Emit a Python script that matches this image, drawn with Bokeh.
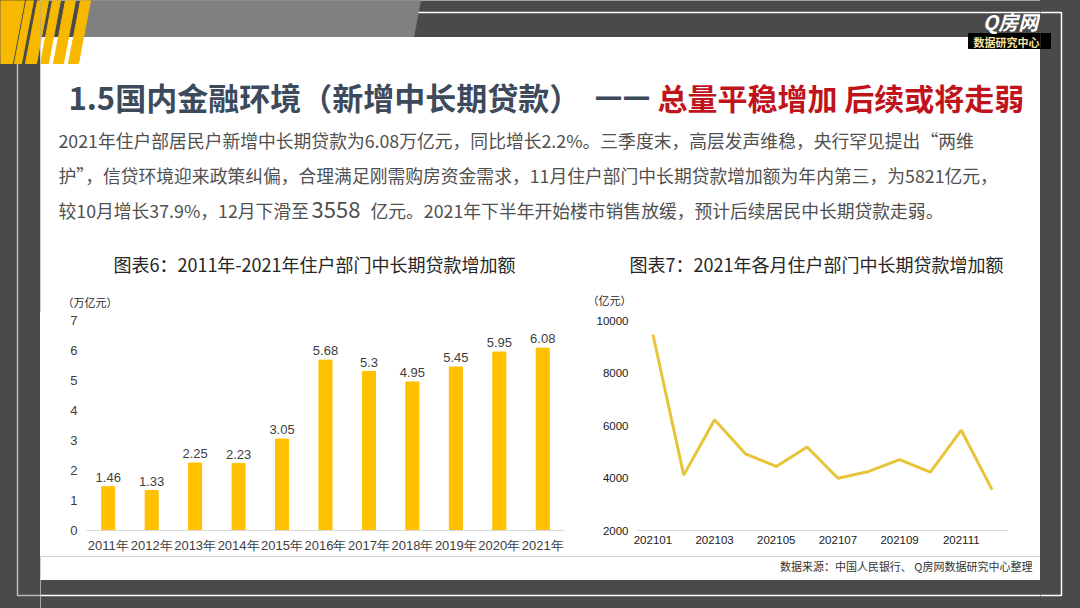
from bokeh.plotting import figure
from bokeh.layouts import column, row
from bokeh.models import Range1d, FactorRange, FixedTicker, CustomJSTickFormatter
from bokeh.core.properties import value
from bokeh.embed import file_html
from bokeh.resources import INLINE

# ---------------- data ----------------
years = ["2011年", "2012年", "2013年", "2014年", "2015年", "2016年",
         "2017年", "2018年", "2019年", "2020年", "2021年"]
annual_loans = [1.46, 1.33, 2.25, 2.23, 3.05, 5.68, 5.3, 4.95, 5.45, 5.95, 6.08]
annual_labels = ["1.46", "1.33", "2.25", "2.23", "3.05", "5.68", "5.3", "4.95", "5.45", "5.95", "6.08"]
bar_y_ticks = [0, 1, 2, 3, 4, 5, 6, 7]

months = ["202101", "202102", "202103", "202104", "202105", "202106",
          "202107", "202108", "202109", "202110", "202111", "202112"]
monthly_loans = [9466, 4110, 6220, 4920, 4440, 5180, 3990, 4250, 4700, 4221, 5821, 3558]
line_y_ticks = [2000, 4000, 6000, 8000, 10000]
month_ticks = [1, 3, 5, 7, 9, 11]

# ---------------- styles ----------------
GRAY = "#4a4a4a"
BAND = "#808080"
STRIPE = "#F7B900"
BAR = "#FFC000"
LINE = "#E8C43A"
CJK = value("Noto Sans CJK SC")
LAT = "Liberation Sans"
FRAME_GRAD = ("linear-gradient(to right, #4a4a4a 0px, #4a4a4a 40px, #ffffff 40px, #ffffff 1040px, "
              "#4a4a4a 1040px, #4a4a4a 1080px)")

TOP_H = 312
MID_H = 244
BOT_Y = TOP_H + MID_H  # 556
STRIPES = [(26, 7), (37, 11), (52, 8), (65, 10), (80, 10)]


def deco(w, h, x0, y0):
    p = figure(width=w, height=h, x_range=Range1d(x0, x0 + w), y_range=Range1d(y0 + h, y0),
               output_backend="svg", toolbar_location=None, x_axis_location=None,
               y_axis_location=None, min_border=0)
    p.grid.visible = False
    p.outline_line_color = None
    p.background_fill_color = GRAY
    p.border_fill_color = GRAY
    return p


def draw_stripes(p):
    p.patch([0, 24, 12, 0], [0, 0, 63, 63], color=STRIPE)
    for sx, sw in STRIPES:
        p.patch([sx, sx + sw, sx + sw - 12, sx - 12], [0, 0, 63, 63], color=STRIPE)


# ---------------- left frame strip (full height) ----------------
left = deco(40, 608, 0, 0)
left.line([17, 17, 41], [63, 595, 595], color="#bbbbbb", line_width=1.5)
draw_stripes(left)

# ---------------- right frame strip (full height) ----------------
right = deco(40, 608, 1040, 0)
right.quad(left=[1039], right=[1050], top=[33], bottom=[48], color="black")
right.line([1039, 1061, 1061, 1039], [12, 12, 595, 595], color="white", line_width=1.5)

# ---------------- top part ----------------
top = deco(1000, TOP_H, 40, 0)
top.patch([85, 420, 413, 78], [0, 0, 37, 37], color=BAND)
top.quad(left=[39], right=[1041], top=[37], bottom=[TOP_H + 2], color="white")
top.line([418, 1041], [12, 12], color="white", line_width=1.5)
draw_stripes(top)
# logo
top.quad(left=[968], right=[1041], top=[33], bottom=[48], color="black")
top.text(x=[1006], y=[41], text=["数据研究中心"], text_font=CJK, text_font_size="11px",
         text_font_style="bold", text_color="#F3E3A0", text_align="center", text_baseline="middle")
top.text(x=[1010], y=[21], text=["Q房网"], text_font=CJK, text_font_size="20px",
         text_font_style="bold italic", text_color="white", text_align="center", text_baseline="middle")
# title
top.text(x=[68], y=[96], text=["1.5国内金融环境（新增中长期贷款）"], text_font=CJK,
         text_font_size="31px", text_font_style="bold", text_color="#3D4A5C",
         text_align="left", text_baseline="middle")
top.text(x=[594], y=[96], text=["——"], text_font=value("DejaVu Sans"),
         text_font_size="28px", text_font_style="bold", text_color="#3D4A5C",
         text_align="left", text_baseline="middle")
top.text(x=[657], y=[96], text=["总量平稳增加 后续或将走弱"], text_font=CJK,
         text_font_size="30px", text_font_style="bold", text_color="#C0141C",
         text_align="left", text_baseline="middle")
# paragraph
para_kw = dict(text_font=CJK, text_font_size="17.8px", text_color="#505050",
               text_align="left", text_baseline="middle")
top.text(x=[58, 58], y=[139, 174],
         text=["2021年住户部居民户新增中长期贷款为6.08万亿元，同比增长2.2%。三季度末，高层发声维稳，央行罕见提出“两维",
               "护”，信贷环境迎来政策纠偏，合理满足刚需购房资金需求，11月住户部门中长期贷款增加额为年内第三，为5821亿元，"],
         **para_kw)
top.text(x=[58], y=[209], text=["较10月增长37.9%，12月下滑至"], **para_kw)
top.text(x=[311], y=[209], text=["3558"], text_font=CJK, text_font_size="22px", text_color="#505050",
         text_align="left", text_baseline="middle")
top.text(x=[370], y=[209], text=[" 亿元。2021年下半年开始楼市销售放缓，预计后续居民中长期贷款走弱。"], **para_kw)
# chart titles
top.text(x=[314, 816], y=[263, 263],
         text=["图表6：2011年-2021年住户部门中长期贷款增加额", "图表7：2021年各月住户部门中长期贷款增加额"],
         text_font=CJK, text_font_size="18px", text_color="#262626",
         text_align="center", text_baseline="middle")
# unit labels
top.text(x=[62, 587], y=[301, 299], text=["（万亿元）", "（亿元）"], text_font=CJK,
         text_font_size="11px", text_color="#262626", text_align="left", text_baseline="middle")

# ---------------- chart 1: bars ----------------
c1 = figure(width=540, height=MID_H, x_range=FactorRange(factors=years), y_range=Range1d(0, 7),
            output_backend="svg", toolbar_location=None,
            min_border_left=46, min_border_right=16, min_border_top=320 - TOP_H,
            min_border_bottom=BOT_Y - 530)
c1.border_fill_color = "white"
c1.background_fill_color = "white"
c1.vbar(x=years, top=annual_loans, width=0.3, color=BAR)
c1.text(x=years, y=annual_loans, text=annual_labels, text_font=value(LAT), text_font_size="13px",
        text_color="#404040", text_align="center", text_baseline="bottom", y_offset=-5)
c1.grid.visible = False
c1.outline_line_color = None
c1.yaxis.ticker = FixedTicker(ticks=bar_y_ticks)
c1.yaxis.axis_line_color = None
c1.xaxis.axis_line_color = "#d9d9d9"
for ax in (c1.xaxis, c1.yaxis):
    ax.major_tick_line_color = None
    ax.minor_tick_line_color = None
    ax.major_tick_out = 0
    ax.major_tick_in = 0
    ax.major_label_text_font = LAT
    ax.major_label_text_font_size = "13px"
    ax.major_label_text_color = "#404040"
c1.yaxis.major_label_standoff = 9
c1.xaxis.major_label_standoff = 7

# ---------------- chart 2: line ----------------
month_index = list(range(1, len(months) + 1))
c2 = figure(width=460, height=MID_H, x_range=Range1d(0.5, len(months) + 0.5),
            y_range=Range1d(2000, 10000), output_backend="svg", toolbar_location=None,
            min_border_left=57, min_border_right=33, min_border_top=319 - TOP_H,
            min_border_bottom=BOT_Y - 536)
c2.border_fill_color = "white"
c2.background_fill_color = "white"
c2.line(x=month_index, y=monthly_loans, color=LINE, line_width=3)
c2.grid.visible = False
c2.outline_line_color = None
c2.yaxis.ticker = FixedTicker(ticks=line_y_ticks)
c2.xaxis.ticker = FixedTicker(ticks=month_ticks)
c2.xaxis.formatter = CustomJSTickFormatter(args=dict(labels=months),
                                           code="return labels[Math.round(tick) - 1];")
c2.yaxis.axis_line_color = None
c2.xaxis.axis_line_color = "#d9d9d9"
for ax in (c2.xaxis, c2.yaxis):
    ax.major_tick_line_color = None
    ax.minor_tick_line_color = None
    ax.major_tick_out = 0
    ax.major_tick_in = 0
    ax.major_label_text_font = LAT
    ax.major_label_text_font_size = "11.5px"
    ax.major_label_text_color = "#1a1a1a"
c2.yaxis.major_label_standoff = 9
c2.xaxis.major_label_standoff = 5

# ---------------- bottom ----------------
bottom = deco(1000, 608 - BOT_Y, 40, BOT_Y)
bottom.quad(left=[39], right=[1041], top=[BOT_Y - 2], bottom=[579], color="white")
bottom.line([39, 1041], [595, 595], color="white", line_width=1.5)
bottom.text(x=[1032], y=[565], text=["数据来源：中国人民银行、 Q房网数据研究中心整理"], text_font=CJK,
            text_font_size="11px", text_color="#333333", text_align="right", text_baseline="middle")

center = column(top, row(c1, c2), bottom)
layout = row(left, center, right)

html = file_html(layout, INLINE)
html = html.replace("<head>", "<head><style>html, body { margin: 0; padding: 0; background: "
                    + FRAME_GRAD + "; }</style>", 1)
open("out.html", "w").write(html)
